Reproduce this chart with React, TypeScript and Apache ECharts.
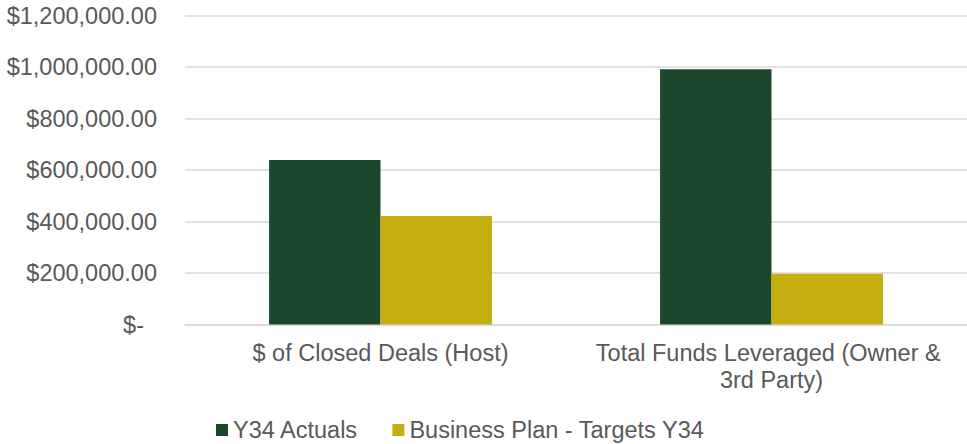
import React, { useEffect, useRef } from "react";
import * as echarts from "echarts";

const categories = ["$ of Closed Deals (Host)", "Total Funds Leveraged (Owner & 3rd Party)"];
const actuals = [639000, 991000];
const targets = [421000, 197000];
const seriesNames = ["Y34 Actuals", "Business Plan - Targets Y34"];
const yMin = 0;
const yMax = 1200000;
const yInterval = 200000;

const FONT = "'Liberation Sans', Arial, sans-serif";
const TEXT = "#595959";

export default function App() {
  const ref = useRef<HTMLDivElement>(null);
  useEffect(() => {
    if (!ref.current) return;
    const chart = echarts.init(ref.current, undefined, { renderer: "svg" });
    chart.setOption({
      animation: false,
      textStyle: { fontFamily: FONT },
      grid: { left: 185, right: 0, top: 15.5, bottom: 119.5, containLabel: false },
      legend: {
        data: seriesNames,
        left: 211,
        top: 413,
        itemWidth: 12,
        itemHeight: 12,
        itemGap: 34,
        icon: "rect",
        textStyle: { color: TEXT, fontSize: 23.5, fontFamily: FONT },
      },
      xAxis: {
        type: "category",
        data: categories,
        axisLine: { show: true, lineStyle: { color: "#d9d9d9", width: 1.5 } },
        axisTick: { show: false },
        axisLabel: {
          color: TEXT,
          fontSize: 23.5,
          fontFamily: FONT,
          margin: 15,
          lineHeight: 27,
          width: 370,
          overflow: "break",
          interval: 0,
        },
      },
      yAxis: {
        type: "value",
        min: yMin,
        max: yMax,
        interval: yInterval,
        axisLine: { show: false },
        axisTick: { show: false },
        splitLine: { lineStyle: { color: "#d9d9d9", width: 1.5 } },
        axisLabel: {
          color: TEXT,
          fontSize: 23.5,
          fontFamily: FONT,
          margin: 28,
          formatter: (v: number) =>
            v === 0
              ? "{z|$-}"
              : "$" + v.toLocaleString("en-US", { minimumFractionDigits: 2, maximumFractionDigits: 2 }),
          rich: {
            z: { color: TEXT, fontSize: 23.5, fontFamily: FONT, padding: [0, 13, 0, 0] },
          },
        },
      },
      series: [
        {
          name: seriesNames[0],
          type: "bar",
          data: actuals,
          barGap: "0%",
          barCategoryGap: "43%",
          itemStyle: { color: "#1b472d" },
        },
        {
          name: seriesNames[1],
          type: "bar",
          data: targets,
          barGap: "0%",
          barCategoryGap: "43%",
          itemStyle: { color: "#c4ae10" },
        },
      ],
    });
    return () => chart.dispose();
  }, []);
  return (
    <div
      ref={ref}
      style={{ position: "fixed", left: 0, top: 0, width: 967, height: 444, background: "#fff" }}
    />
  );
}
